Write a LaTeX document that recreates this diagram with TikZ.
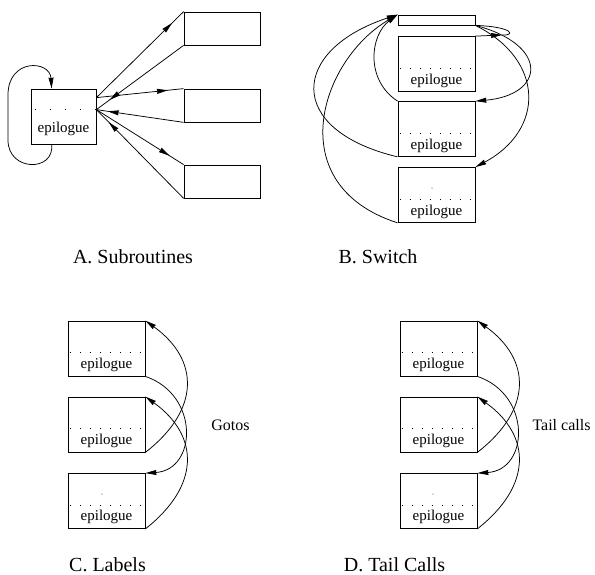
\documentclass[tikz,border=0pt]{standalone}
\usepackage{fontspec}
\setmainfont{Liberation Serif}
\usetikzlibrary{calc,arrows.meta,decorations.markings}
\tikzset{midtip/.style={postaction={decorate},
    decoration={markings,mark=at position #1 with {\arrow{>}}}}}

\begin{document}
\begin{tikzpicture}[x=1pt,y=-1pt,line width=0.75pt,
        >={Stealth[length=11pt,width=5pt,inset=0.5pt]},
        blk/.style={draw,inner sep=0pt,minimum width=77pt,minimum height=55pt},
        stub/.style={draw,inner sep=0pt,minimum width=76pt,minimum height=33pt},
        epi/.style={font=\fontsize{15}{15}\selectfont,anchor=base,inner sep=0pt},
        title/.style={font=\fontsize{20}{24}\selectfont,anchor=base,inner sep=0pt},
        lbl/.style={font=\fontsize{16}{18}\selectfont,inner sep=0pt},
        dots/.style={line width=1.1pt,dash pattern=on 1.1pt off 8.9pt,dash phase=8pt}]
    \useasboundingbox (0,0) rectangle (595,575);

    % A. Subroutines
    \node[draw,inner sep=0pt,minimum width=65pt,minimum height=55pt] (sub) at (63.5,116.5) {};
    \node[stub] (rt1) at (222,28.5) {};
    \node[stub] (rt2) at (222,105.5) {};
    \node[stub] (rt3) at (222,181.5) {};
    \node[epi] (subepi) at ($(sub.south)+(0,-12)$) {epilogue};
    \draw[dots,dash pattern=on 1.1pt off 13.9pt,dash phase=11pt]
        ($(sub.north west)+(0,21)$) -- ($(sub.north east)+(0,21)$);
    \coordinate (subout) at ($(sub.north east)+(0,9)$);
    \coordinate (subret) at ($(sub.north east)+(0,21)$);
    \coordinate (loopout) at ($(sub.south west)+(21,0)$);
    \coordinate (loopin) at ($(sub.north west)+(21,0)$);

    \draw[midtip=0.87] (subout) -- (rt1.north west);
    \draw[midtip=0.85] (rt1.south west) -- (subret);
    \draw[midtip=0.82] (subout) -- (rt2.north west);
    \draw[midtip=0.87] (rt2.south west) -- (subret);
    \draw[midtip=0.84] (subret) -- (rt3.north west);
    \draw[midtip=0.86] (rt3.south west) -- (subret);
    \draw[->] (loopout) .. controls (55,172) and (8,172) .. (8,140) -- (8,95)
        .. controls (8,58) and (50,60) .. (loopin);

    % B. Switch
    \node[draw,inner sep=0pt,minimum width=77pt,minimum height=10pt] (sw) at (436.5,20) {};
    \node[blk] (sw1) at (436.5,64) {};
    \node[blk] (sw2) at (436.5,129) {};
    \node[blk] (sw3) at (436.5,195) {};
    \node[epi] (sw1epi) at ($(sw1.south)+(0,-7)$) {epilogue};
    \node[epi] (sw2epi) at ($(sw2.south)+(0,-7)$) {epilogue};
    \node[epi] (sw3epi) at ($(sw3.south)+(0,-7)$) {epilogue};
    \draw[dots] ($(sw1.north west)+(0,32)$) -- ($(sw1.north east)+(0,32)$);
    \draw[dots] ($(sw2.north west)+(0,32)$) -- ($(sw2.north east)+(0,32)$);
    \draw[dots] ($(sw3.north west)+(0,32)$) -- ($(sw3.north east)+(0,32)$);
    \fill ($(sw3.north)+(-4.5,21)$) circle (0.5pt);
    \coordinate (swloop) at (502,35);

    \draw[->] (sw2.south west) .. controls (285,130) and (290,50) .. (sw.north west);
    \draw[->] (sw3.south west) .. controls (280,185) and (320,60) .. (sw.north west);
    \draw[->] (sw2.north west) .. controls (365,80) and (370,35) .. (sw.north west);
    \draw[->] (sw.south east) .. controls (550,45) and (545,95) .. (sw2.north east);
    \draw[->] (sw.south east) .. controls (545,60) and (545,130) .. (sw3.north east);
    \draw (sw.south east) .. controls (515,27) and (515,36) .. (swloop);
    \draw[->] (sw1.north east) -- (swloop);

    % C. Labels
    \node[blk] (lb1) at (106.5,348.5) {};
    \node[blk] (lb2) at (106.5,424.5) {};
    \node[blk] (lb3) at (106.5,501) {};
    \node[epi] (lb1epi) at ($(lb1.south)+(0,-8)$) {epilogue};
    \node[epi] (lb2epi) at ($(lb2.south)+(0,-8)$) {epilogue};
    \node[epi] (lb3epi) at ($(lb3.south)+(0,-8)$) {epilogue};
    \draw[dots] ($(lb1.north west)+(0,32)$) -- ($(lb1.north east)+(0,32)$);
    \draw[dots] ($(lb2.north west)+(0,32)$) -- ($(lb2.north east)+(0,32)$);
    \draw[dots] ($(lb3.north west)+(0,32)$) -- ($(lb3.north east)+(0,32)$);
    \fill ($(lb3.north)+(-4.5,21)$) circle (0.5pt);

    \draw[->] (lb2.south east) .. controls (200,410) and (200,360) .. (lb1.north east);
    \draw[->] (lb1.south east) .. controls (200,395) and (197,470) .. (lb3.north east);
    \draw[->] (lb3.south east) .. controls (200,486) and (200,436) .. (lb2.north east);
    \node[lbl] (gotos) at (230.5,425) {Gotos};

    % D. Tail Calls
    \node[blk] (tc1) at (438.5,348.5) {};
    \node[blk] (tc2) at (438.5,424.5) {};
    \node[blk] (tc3) at (438.5,501) {};
    \node[epi] (tc1epi) at ($(tc1.south)+(0,-8)$) {epilogue};
    \node[epi] (tc2epi) at ($(tc2.south)+(0,-8)$) {epilogue};
    \node[epi] (tc3epi) at ($(tc3.south)+(0,-8)$) {epilogue};
    \draw[dots] ($(tc1.north west)+(0,32)$) -- ($(tc1.north east)+(0,32)$);
    \draw[dots] ($(tc2.north west)+(0,32)$) -- ($(tc2.north east)+(0,32)$);
    \draw[dots] ($(tc3.north west)+(0,32)$) -- ($(tc3.north east)+(0,32)$);
    \fill ($(tc3.north)+(-5.5,21)$) circle (0.5pt);

    \draw[->] (tc2.south east) .. controls (532,410) and (532,360) .. (tc1.north east);
    \draw[->] (tc1.south east) .. controls (532,395) and (529,470) .. (tc3.north east);
    \draw[->] (tc3.south east) .. controls (532,486) and (532,436) .. (tc2.north east);
    \node[lbl] (tails) at (561.5,425) {Tail calls};

    % captions
    \node[title] (capa) at (133,263) {A. Subroutines};
    \node[title] (capb) at (378,263) {B. Switch};
    \node[title] (capc) at (107.5,571) {C. Labels};
    \node[title] (capd) at (394.5,571) {D. Tail Calls};
\end{tikzpicture}
\end{document}
